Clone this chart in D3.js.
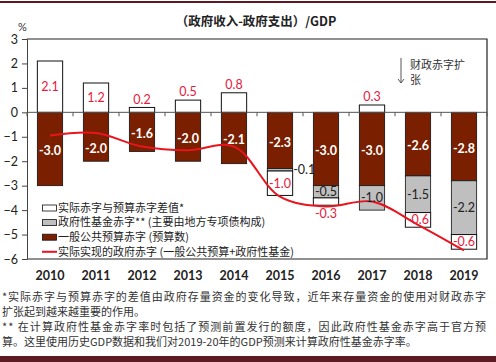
<!DOCTYPE html>
<html>
<head>
<meta charset="utf-8">
<script src="https://cdn.jsdelivr.net/npm/d3@7/dist/d3.min.js"></script>
<style>
  body { margin: 0; background: #fff; }
  svg { display: block; }
  .cjk { font-family: "Noto Sans CJK SC", sans-serif; }
  .num { font-family: Lato, "Open Sans", sans-serif; }
</style>
</head>
<body>
<svg width="496" height="362"></svg>
<script>
// data
var years = ['2010','2011','2012','2013','2014','2015','2016','2017','2018','2019'];
var gap = [2.1, 1.2, 0.2, 0.5, 0.8, -1.0, -0.3, 0.3, -0.6, -0.6];      // 实际赤字与预算赤字差值
var fund = [0, 0, 0, 0, 0, -0.1, -0.5, -1.0, -1.5, -2.2];              // 政府性基金赤字
var general = [-3.0, -2.0, -1.6, -2.0, -2.1, -2.3, -3.0, -3.0, -2.6, -2.8]; // 一般公共预算赤字
var actual = [-0.95, -0.85, -1.4, -1.55, -1.4, -3.45, -3.85, -3.65, -4.6, -5.65];
var yTicks = [3, 2, 1, 0, -1, -2, -3, -4, -5, -6];
var legendItems = ['实际赤字与预算赤字差值*', '政府性基金赤字** (主要由地方专项债构成)',
                   '一般公共预算赤字 (预算数)', '实际实现的政府赤字 (一般公共预算+政府性基金)'];
var notes = ['*实际赤字与预算赤字的差值由政府存量资金的变化导致，近年来存量资金的使用对财政赤字',
             '扩张起到越来越重要的作用。',
             '** 在计算政府性基金赤字率时包括了预测前置发行的额度，因此政府性基金赤字高于官方预',
             '算。这里使用历史GDP数据和我们对2019-20年的GDP预测来计算政府性基金赤字率。'];
var justified = [true, false, true, false];

var brown = '#7a2000', grey = '#bfbfbf', red = '#e8141e', redText = '#e8193c';

var svg = d3.select('svg');
var pLeft = 27, pRight = 487, pTop = 39, pBottom = 259;

var x = d3.scaleBand().domain(years).range([pLeft, pRight]).paddingInner(0.45).paddingOuter(0.225);
var y = d3.scaleLinear().domain([-6, 3]).range([pBottom, pTop]);

// top / bottom maroon bars
svg.append('rect').attr('x', 0).attr('y', 1).attr('width', 496).attr('height', 2).attr('fill', '#5c1a22');
svg.append('rect').attr('x', 0).attr('y', 356).attr('width', 496).attr('height', 6).attr('fill', '#5c1a22');

// title
svg.append('text').attr('class', 'cjk').attr('x', 256).attr('y', 26)
  .attr('text-anchor', 'middle').attr('font-size', 12.5).attr('font-weight', 'bold').attr('fill', '#222')
  .text('（政府收入-政府支出）/GDP');
svg.append('text').attr('class', 'num').attr('x', 18).attr('y', 31)
  .attr('font-size', 11).attr('fill', '#333').text('%');

// frame
svg.append('path')
  .attr('d', 'M' + pLeft + ',' + pTop + 'H' + pRight + 'V' + pBottom + 'H' + pLeft)
  .attr('fill', 'none').attr('stroke', '#222').attr('stroke-width', 1.2);

// y axis
var yAxis = svg.append('g').attr('transform', 'translate(' + pLeft + ',0)')
  .call(d3.axisLeft(y).tickValues(yTicks).tickSize(5).tickPadding(4).tickFormat(d3.format('d')));
yAxis.select('.domain').attr('stroke', '#444');
yAxis.selectAll('.tick line').attr('stroke', '#444');
yAxis.selectAll('text').attr('font-size', 12.5).attr('fill', '#222')
  .attr('font-family', 'Lato, sans-serif');

// bars
var bars = svg.append('g');
years.forEach(function(yr, i) {
  var bx = x(yr), bw = x.bandwidth();
  var g0 = general[i], f0 = general[i] + fund[i];
  bars.append('rect').attr('x', bx).attr('width', bw)
    .attr('y', y(0)).attr('height', y(g0) - y(0))
    .attr('fill', brown).attr('stroke', '#111').attr('stroke-width', 0.8);
  if (fund[i] < 0) {
    bars.append('rect').attr('x', bx).attr('width', bw)
      .attr('y', y(g0)).attr('height', y(f0) - y(g0))
      .attr('fill', grey).attr('stroke', '#111').attr('stroke-width', 0.8);
  }
  var a = gap[i] > 0 ? 0 : f0, b = a + gap[i];
  bars.append('rect').attr('x', bx).attr('width', bw)
    .attr('y', y(Math.max(a, b))).attr('height', Math.abs(y(a) - y(b)))
    .attr('fill', '#fff').attr('stroke', '#111').attr('stroke-width', 1);
});

// zero axis with category ticks
svg.append('line').attr('x1', pLeft).attr('x2', pRight).attr('y1', y(0)).attr('y2', y(0))
  .attr('stroke', '#555').attr('stroke-width', 1);
var bounds = d3.range(years.length + 1).map(function(k) { return pLeft + k * x.step(); });
svg.append('g').selectAll('line').data(bounds).join('line')
  .attr('x1', function(d) { return d; }).attr('x2', function(d) { return d; })
  .attr('y1', y(0)).attr('y2', y(0) + 4).attr('stroke', '#555');

// actual deficit line
var line = d3.line()
  .curve(d3.curveCatmullRom.alpha(0.5))
  .x(function(d, i) { return x(years[i]) + x.bandwidth() / 2; })
  .y(function(d) { return y(d); });
svg.append('path').attr('d', line(actual))
  .attr('fill', 'none').attr('stroke', red).attr('stroke-width', 2);

// labels
var labels = svg.append('g').attr('class', 'num').attr('font-size', 12.5).attr('text-anchor', 'middle');
years.forEach(function(yr, i) {
  var cx = x(yr) + x.bandwidth() / 2;
  // brown segment label, pushed below the line if they collide
  var ly = general[i] / 2;
  if (Math.abs(ly - actual[i]) < 0.3) ly = actual[i] - 0.55;
  labels.append('text').attr('x', cx).attr('y', y(ly) + 2).attr('dy', '0.35em')
    .attr('fill', '#fff').attr('font-weight', 'bold').text(general[i].toFixed(1));
  // fund label
  var f0 = general[i] + fund[i];
  if (fund[i] < -0.25) {
    labels.append('text').attr('x', cx).attr('y', y(general[i] + fund[i] / 2)).attr('dy', '0.35em')
      .attr('fill', '#222').text(fund[i].toFixed(1));
  } else if (fund[i] < 0) {
    labels.append('text').attr('x', x(yr) + x.bandwidth() + 0.5).attr('y', y(general[i] + fund[i] / 2)).attr('dy', '0.35em')
      .attr('text-anchor', 'start').attr('fill', '#222').text(fund[i].toFixed(1));
  }
  // gap label
  var gy;
  if (gap[i] > 0) {
    gy = gap[i] >= 1 ? y(gap[i] / 2) : y(gap[i]) - 8;
  } else {
    gy = gap[i] <= -0.5 ? y(f0 + gap[i] / 2) : y(f0 + gap[i]) + 8;
  }
  labels.append('text').attr('x', cx).attr('y', gy).attr('dy', '0.35em')
    .attr('fill', redText).text(gap[i].toFixed(1));
});

// x labels
svg.append('g').selectAll('text').data(years).join('text')
  .attr('class', 'num')
  .attr('x', function(d) { return x(d) + x.bandwidth() / 2; })
  .attr('y', 280).attr('text-anchor', 'middle')
  .attr('font-size', 12.5).attr('font-weight', 'bold').attr('fill', '#222')
  .text(function(d) { return d; });

// annotation
svg.append('line').attr('x1', 401).attr('x2', 401).attr('y1', 58).attr('y2', 83)
  .attr('stroke', '#555').attr('stroke-width', 1);
svg.append('path').attr('d', 'M398,79L401,83L404,79').attr('fill', 'none').attr('stroke', '#555');
svg.append('text').attr('class', 'cjk').attr('x', 410).attr('y', 69).attr('font-size', 11)
  .attr('fill', '#333').text('财政赤字扩');
svg.append('text').attr('class', 'cjk').attr('x', 410).attr('y', 84).attr('font-size', 11)
  .attr('fill', '#333').text('张');

// legend
var leg = svg.append('g').attr('transform', 'translate(42,208)');
legendItems.forEach(function(t, i) {
  var row = leg.append('g').attr('transform', 'translate(0,' + (i * 14.6) + ')');
  if (i < 3) {
    row.append('rect').attr('x', 0.5).attr('y', -3).attr('width', 14).attr('height', 6)
      .attr('fill', ['#fff', grey, brown][i]).attr('stroke', '#111').attr('stroke-width', 0.8);
  } else {
    row.append('line').attr('x1', 0).attr('x2', 15).attr('y1', 0).attr('y2', 0)
      .attr('stroke', red).attr('stroke-width', 2);
  }
  row.append('text').attr('class', 'cjk').attr('x', 16).attr('y', 0).attr('dy', '0.35em')
    .attr('font-size', 11).attr('fill', '#222').text(t);
});

// footnotes
svg.append('g').selectAll('text').data(notes).join('text')
  .attr('class', 'cjk')
  .attr('x', 2)
  .attr('y', function(d, i) { return 301 + i * 15; })
  .attr('font-size', 11).attr('fill', '#333')
  .each(function(d, i) {
    if (justified[i]) d3.select(this).attr('textLength', 484).attr('lengthAdjust', 'spacing');
  })
  .text(function(d) { return d; });
</script>
</body>
</html>
